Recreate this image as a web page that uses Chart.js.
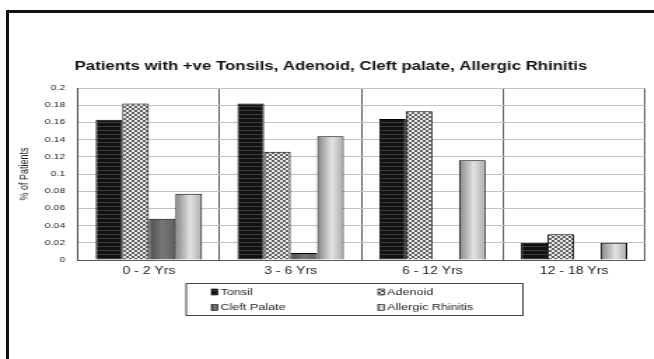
<!DOCTYPE html>
<html>
<head>
<meta charset="utf-8">
<script src="https://cdn.jsdelivr.net/npm/chart.js@4"></script>
<style>
  html, body { margin: 0; padding: 0; background: #fff; overflow: hidden; width: 654px; height: 359px; }
  #frame { position: absolute; left: 6px; top: 10px; width: 700px; height: 400px;
           border-left: 3px solid #111; border-top: 3px solid #111; box-sizing: border-box; }
  /* the chart is laid out narrow and widened horizontally */
  #c { position: absolute; left: 0; top: 0; transform: scaleX(1.4); transform-origin: 0 0; }
</style>
</head>
<body>
<div id="frame"></div>
<canvas id="c" width="467" height="359"></canvas>
<script>
// ---- data ----
const categories = ['0 - 2 Yrs', '3 - 6 Yrs', '6 - 12 Yrs', '12 - 18 Yrs'];
const seriesNames = ['Tonsil', 'Adenoid', 'Cleft Palate', 'Allergic Rhinitis'];
const tonsil = [0.163, 0.182, 0.164, 0.020];
const adenoid = [0.182, 0.126, 0.173, 0.030];
const cleftPalate = [0.048, 0.008, 0, 0];
const allergicRhinitis = [0.077, 0.144, 0.116, 0.020];
const yTickValues = [0, 0.02, 0.04, 0.06, 0.08, 0.1, 0.12, 0.14, 0.16, 0.18, 0.2];

const CAT_PCT = 0.75;
const FONT = "'Liberation Sans', Arial, sans-serif";

// ---- fills ----
function makeTile(w, h, draw) {
  const t = document.createElement('canvas');
  t.width = w; t.height = h;
  draw(t.getContext('2d'));
  return t;
}
const tonsilTile = makeTile(4, 4, g => {
  g.fillStyle = '#111'; g.fillRect(0, 0, 4, 4);
  g.fillStyle = '#3d3d3d'; g.fillRect(0, 2, 4, 1);
});
const adenoidTile = makeTile(4, 4, g => {
  g.fillStyle = '#5e5e5e'; g.fillRect(0, 0, 4, 4);
  g.fillStyle = '#ececec'; g.fillRect(0, 0, 2, 2); g.fillRect(2, 2, 2, 2);
});
const patternCache = new WeakMap();
function patternsFor(ctx) {
  let p = patternCache.get(ctx);
  if (!p) {
    p = [ctx.createPattern(tonsilTile, 'repeat'), ctx.createPattern(adenoidTile, 'repeat')];
    patternCache.set(ctx, p);
  }
  return p;
}
const gradientStops = {
  2: [[0, '#4e4e4e'], [0.5, '#767676'], [1, '#606060']],
  3: [[0, '#858585'], [0.55, '#e2e2e2'], [1, '#ababab']]
};
const flatColors = ['#111', '#a0a0a0', '#666', '#c0c0c0'];

function fillFor(ctx, di, x0, x1) {
  if (di < 2) return patternsFor(ctx)[di];
  if (!Number.isFinite(x0) || !Number.isFinite(x1) || x1 <= x0) return flatColors[di];
  const g = ctx.createLinearGradient(x0, 0, x1, 0);
  gradientStops[di].forEach(([o, c]) => g.addColorStop(o, c));
  return g;
}

// horizontal extent of a bar, taken from the category scale
function barSpan(chart, di, i) {
  const x = chart.scales.x;
  const cat = x.width / categories.length;
  const group = cat * CAT_PCT;
  const w = group / seriesNames.length;
  const left = x.getPixelForValue(i) - group / 2 + di * w;
  return [left, left + w];
}

function barFill(c) {
  const chart = c.chart;
  if (c.type !== 'data' || !chart.scales || !chart.scales.x) return flatColors[c.datasetIndex];
  const [x0, x1] = barSpan(chart, c.datasetIndex, c.dataIndex);
  return fillFor(chart.ctx, c.datasetIndex, x0, x1);
}

// ---- legend drawn in a framed box under the axis ----
const legendBox = {
  id: 'legendBox',
  afterDraw(chart) {
    const ctx = chart.ctx;
    const box = { x: 133, y: 283.5, w: 240.5, h: 32 };
    const cols = [151, 270];
    const rows = [292, 307.5];
    ctx.save();
    ctx.strokeStyle = '#444';
    ctx.lineWidth = 1;
    ctx.strokeRect(box.x, box.y, box.w, box.h);
    ctx.font = '9px ' + FONT;
    ctx.textBaseline = 'middle';
    seriesNames.forEach((name, k) => {
      const sx = cols[k % 2], sy = rows[Math.floor(k / 2)];
      ctx.fillStyle = fillFor(ctx, k, sx, sx + 4.5);
      ctx.fillRect(sx, sy - 3, 4.5, 6);
      ctx.strokeStyle = '#000';
      ctx.lineWidth = 0.6;
      ctx.strokeRect(sx, sy - 3, 4.5, 6);
      ctx.fillStyle = '#222';
      ctx.fillText(name, sx + 6.5, sy + 0.5);
    });
    ctx.restore();
  }
};

const seriesData = [tonsil, adenoid, cleftPalate, allergicRhinitis];

const chart = new Chart(document.getElementById('c'), {
  type: 'bar',
  data: {
    labels: categories,
    datasets: seriesNames.map((name, k) => ({
      label: name,
      data: seriesData[k],
      backgroundColor: barFill,
      borderColor: '#000',
      borderWidth: c => (c.raw === 0 ? 0 : 1),
      categoryPercentage: CAT_PCT,
      barPercentage: 1
    }))
  },
  options: {
    responsive: false,
    animation: false,
    layout: { padding: { left: 12, right: 6.3, top: 0, bottom: 0 } },
    plugins: {
      legend: { display: false },
      tooltip: { enabled: false },
      title: {
        display: true,
        text: 'Patients with +ve Tonsils, Adenoid, Cleft palate, Allergic Rhinitis',
        color: '#111',
        font: { family: FONT, size: 12, weight: 'bold', lineHeight: 1.2 },
        padding: { top: 59, bottom: 14.6 }
      }
    },
    scales: {
      x: {
        grid: { offset: true, color: '#5a5a5a', lineWidth: 1, drawTicks: false },
        border: { display: true, color: '#5a5a5a' },
        ticks: { color: '#222', font: { family: FONT, size: 10 }, padding: 5, maxRotation: 0 },
        afterFit: s => { s.height = 99; }
      },
      y: {
        min: 0,
        max: 0.2,
        afterBuildTicks: s => { s.ticks = yTickValues.map(v => ({ value: v })); },
        grid: { color: '#c4c4c4', lineWidth: 1, drawTicks: false },
        border: { display: true, color: '#444', width: 1 },
        ticks: { color: '#222', font: { family: FONT, size: 7.5 }, padding: 9, callback: v => String(v) },
        title: {
          display: true,
          text: '% of Patients',
          color: '#222',
          font: { family: FONT, size: 9 },
          padding: { top: 0.2, bottom: 0 }
        },
        afterFit: s => { s.width = 43.7; }
      }
    }
  },
  plugins: [legendBox]
});
// second pass so bar gradients follow the final scale layout
chart.update('none');
</script>
</body>
</html>
